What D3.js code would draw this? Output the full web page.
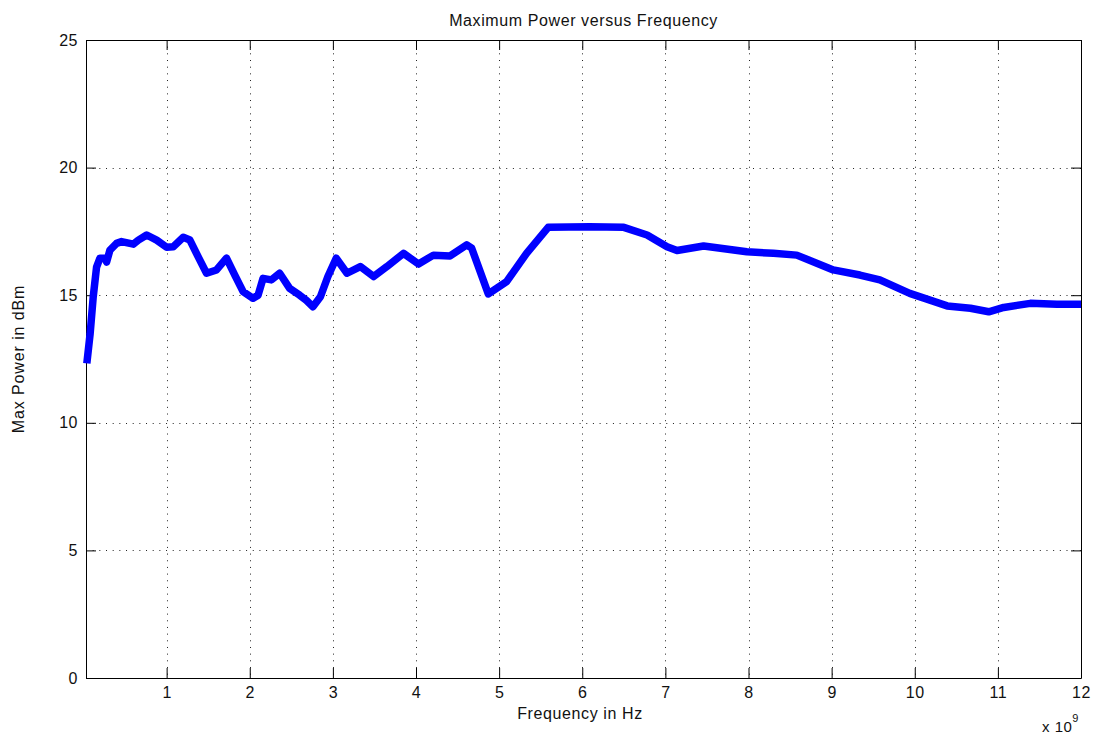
<!DOCTYPE html>
<html>
<head>
<meta charset="utf-8">
<script src="https://cdn.jsdelivr.net/npm/d3@7"></script>
<style>
  body { margin: 0; background: #fff; }
  text { font-family: "Liberation Sans", Arial, sans-serif; fill: #111; }
</style>
</head>
<body>
<div id="chart"></div>
<script>
const width = 1096;
const height = 735;
const margin = { top: 40, right: 15, bottom: 57, left: 86 };

// frequency in units of 1e9 Hz
const freq = [0.04, 0.08, 0.117, 0.157, 0.197, 0.257, 0.278, 0.318, 0.398, 0.458, 0.6, 0.66, 0.76, 0.88, 1.0, 1.08, 1.2, 1.28, 1.38, 1.48, 1.6, 1.72, 1.82, 1.92, 2.04, 2.1, 2.16, 2.26, 2.36, 2.48, 2.6, 2.68, 2.76, 2.85, 2.94, 3.04, 3.17, 3.33, 3.49, 3.65, 3.85, 4.03, 4.21, 4.41, 4.61, 4.67, 4.87, 5.09, 5.33, 5.59, 6.09, 6.5, 6.78, 7.02, 7.14, 7.46, 7.98, 8.3, 8.58, 9.02, 9.34, 9.58, 9.94, 10.39, 10.67, 10.89, 11.07, 11.39, 11.71, 12.0];
const power = [12.33, 13.5, 14.94, 16.1, 16.45, 16.45, 16.3, 16.77, 17.03, 17.1, 17.0, 17.16, 17.36, 17.16, 16.88, 16.9, 17.27, 17.16, 16.5, 15.86, 15.99, 16.45, 15.79, 15.14, 14.88, 15.0, 15.66, 15.6, 15.86, 15.27, 15.0, 14.8, 14.55, 14.94, 15.73, 16.45, 15.86, 16.12, 15.73, 16.12, 16.64, 16.22, 16.57, 16.54, 16.97, 16.84, 15.05, 15.53, 16.64, 17.66, 17.68, 17.66, 17.36, 16.9, 16.75, 16.93, 16.7, 16.64, 16.57, 15.99, 15.79, 15.6, 15.07, 14.58, 14.49, 14.35, 14.52, 14.68, 14.65, 14.65];

const xTicks = [1, 2, 3, 4, 5, 6, 7, 8, 9, 10, 11, 12];
const yTicks = [0, 5, 10, 15, 20, 25];

const svg = d3.select("#chart")
  .append("svg")
  .attr("width", width)
  .attr("height", height);

const x = d3.scaleLinear().domain([0.03, 12]).range([margin.left, width - margin.right]);
const y = d3.scaleLinear().domain([0, 25]).range([height - margin.bottom, margin.top]);

const plotLeft = x.range()[0], plotRight = x.range()[1];
const plotTop = y.range()[1], plotBottom = y.range()[0];

// grid
const grid = svg.append("g")
  .attr("stroke", "#222")
  .attr("stroke-width", 1)
  .attr("stroke-dasharray", "1,5.67");

grid.selectAll(".gx")
  .data(xTicks.filter(t => t < 12))
  .enter().append("line")
  .attr("x1", d => Math.round(x(d)) + 0.5)
  .attr("x2", d => Math.round(x(d)) + 0.5)
  .attr("y1", plotTop)
  .attr("y2", plotBottom);

grid.selectAll(".gy")
  .data(yTicks.filter(t => t > 0 && t < 25))
  .enter().append("line")
  .attr("x1", plotLeft)
  .attr("x2", plotRight)
  .attr("y1", d => Math.round(y(d)) + 0.5)
  .attr("y2", d => Math.round(y(d)) + 0.5);

// axes with inward ticks, on all four sides
const tickLen = 10;
const tickFont = g => g.selectAll("text")
  .attr("font-size", 16)
  .attr("letter-spacing", 0.5)
  .attr("fill", "#111")
  .attr("font-family", "Liberation Sans, Arial, sans-serif");

svg.append("g")
  .attr("transform", `translate(0,${plotBottom})`)
  .call(d3.axisBottom(x).tickValues(xTicks).tickSizeInner(-tickLen).tickSizeOuter(0).tickPadding(9))
  .call(tickFont);

svg.append("g")
  .attr("transform", `translate(0,${plotTop})`)
  .call(d3.axisTop(x).tickValues(xTicks).tickSizeInner(-tickLen).tickSizeOuter(0).tickFormat(""));

svg.append("g")
  .attr("transform", `translate(${plotLeft},0)`)
  .call(d3.axisLeft(y).tickValues(yTicks).tickSizeInner(-tickLen).tickSizeOuter(0).tickPadding(8))
  .call(tickFont);

svg.append("g")
  .attr("transform", `translate(${plotRight},0)`)
  .call(d3.axisRight(y).tickValues(yTicks).tickSizeInner(-tickLen).tickSizeOuter(0).tickFormat(""));

svg.selectAll(".domain").attr("stroke", "#000");
svg.selectAll(".tick line").attr("stroke", "#000");

// data line
const data = freq.map((f, i) => ({ f, p: power[i] }));
svg.append("path")
  .datum(data)
  .attr("fill", "none")
  .attr("stroke", "#0000ff")
  .attr("stroke-width", 7.5)
  .attr("stroke-linejoin", "round")
  .attr("d", d3.line().x(d => x(d.f)).y(d => y(d.p)));

// labels
svg.append("text")
  .attr("x", (plotLeft + plotRight) / 2)
  .attr("y", 26)
  .attr("text-anchor", "middle")
  .attr("font-size", 16)
  .attr("letter-spacing", 0.6)
  .text("Maximum Power versus Frequency");

svg.append("text")
  .attr("x", 580)
  .attr("y", 719)
  .attr("text-anchor", "middle")
  .attr("font-size", 16)
  .attr("letter-spacing", 0.6)
  .text("Frequency in Hz");

svg.append("text")
  .attr("transform", `translate(24,${(plotTop + plotBottom) / 2}) rotate(-90)`)
  .attr("text-anchor", "middle")
  .attr("font-size", 16)
  .attr("letter-spacing", 0.9)
  .text("Max Power in dBm");

const exp = svg.append("text")
  .attr("x", 1042)
  .attr("y", 732)
  .attr("font-size", 15)
  .attr("letter-spacing", 0.5);
exp.append("tspan").text("x 10");
exp.append("tspan").attr("dy", -10).attr("font-size", 11).text("9");
</script>
</body>
</html>
